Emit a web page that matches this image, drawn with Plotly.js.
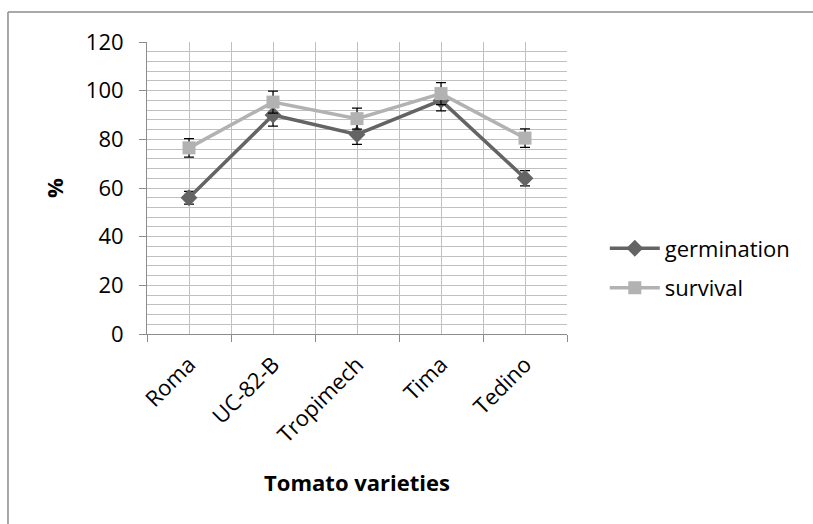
<!DOCTYPE html>
<html>
<head>
<meta charset="utf-8">
<script src="https://cdn.plot.ly/plotly-3.0.1.min.js"></script>
<style>html,body{margin:0;padding:0;background:#fff;}#chart{width:813px;height:524px;}</style>
</head>
<body>
<div id="chart"></div>
<script>
const categories = ["Roma", "UC-82-B", "Tropimech", "Tima", "Tedino"];
const germination = [56, 90, 82, 96, 64];
const germinationErr = [2.6, 4.6, 4.1, 4.3, 3.1];
const survival = [76.5, 95.3, 88.5, 98.8, 80.5];
const survivalErr = [3.8, 4.5, 4.3, 4.5, 3.8];
const yTicks = [0, 20, 40, 60, 80, 100, 120];

const idx = categories.map((c, i) => i);
const font = "'Open Sans', sans-serif";

const traces = [
  {
    x: idx, y: germination, name: "germination", legendgroup: "g", type: "scatter", mode: "lines+markers",
    line: {color: "#646464", width: 3.5},
    marker: {symbol: "diamond", size: 13, color: "#646464"},
    error_y: {type: "data", array: germinationErr, visible: true, color: "#000", thickness: 1.2, width: 5}
  },
  {
    x: idx, y: survival, name: "survival", legendgroup: "s", type: "scatter", mode: "lines+markers",
    line: {color: "#b2b2b2", width: 3.5},
    marker: {symbol: "square", size: 13, color: "#b2b2b2"},
    error_y: {type: "data", array: survivalErr, visible: true, color: "#000", thickness: 1.2, width: 5}
  }
];

const layout = {
  width: 813, height: 524,
  margin: {l: 147, r: 246, t: 42, b: 190},
  paper_bgcolor: "#fff", plot_bgcolor: "#fff",
  font: {family: font, size: 22, color: "#000"},
  showlegend: true,
  legend: {x: 1.09, y: 0.365, xanchor: "left", yanchor: "top", font: {size: 22}, tracegroupgap: 8, itemwidth: 50, bgcolor: "rgba(0,0,0,0)"},
  xaxis: {
    range: [-0.5, 4.5], tickmode: "array", tickvals: idx, ticktext: categories,
    tickangle: -45, ticks: "", ticklabelstandoff: 8, showgrid: true, gridcolor: "#c0c0c0", gridwidth: 1,
    showline: true, linecolor: "#8c8c8c", linewidth: 1, zeroline: false,
    minor: {tickmode: "array", tickvals: [-0.5, 0.5, 1.5, 2.5, 3.5, 4.5], ticks: "outside", ticklen: 7, tickcolor: "#8c8c8c", showgrid: true, gridcolor: "#c0c0c0", gridwidth: 1},
    title: {text: "<b>Tomato varieties</b>", font: {size: 22}, standoff: 28},
    tickfont: {size: 22}
  },
  yaxis: {
    range: [0, 120], tickmode: "array", tickvals: yTicks,
    ticks: "outside", ticklen: 7, tickcolor: "#8c8c8c", ticklabelstandoff: 11,
    showgrid: true, gridcolor: "#c0c0c0", gridwidth: 1,
    showline: true, linecolor: "#8c8c8c", linewidth: 1, zeroline: false,
    minor: {dtick: 4, showgrid: true, gridcolor: "#c0c0c0", gridwidth: 1, ticks: ""},
    title: {text: "<b>%</b>", font: {size: 22}, standoff: 16},
    tickfont: {size: 22}
  },
  shapes: [
    {type: "line", xref: "paper", yref: "paper", x0: -0.331, x1: -0.331, y0: -0.7, y1: 1.103, line: {color: "#8c8c8c", width: 1.5}},
    {type: "line", xref: "paper", yref: "paper", x0: -0.331, x1: 1.6, y0: 1.103, y1: 1.103, line: {color: "#8c8c8c", width: 1.5}}
  ]
};

Plotly.newPlot("chart", traces, layout, {displayModeBar: false, staticPlot: true});
</script>
</body>
</html>
